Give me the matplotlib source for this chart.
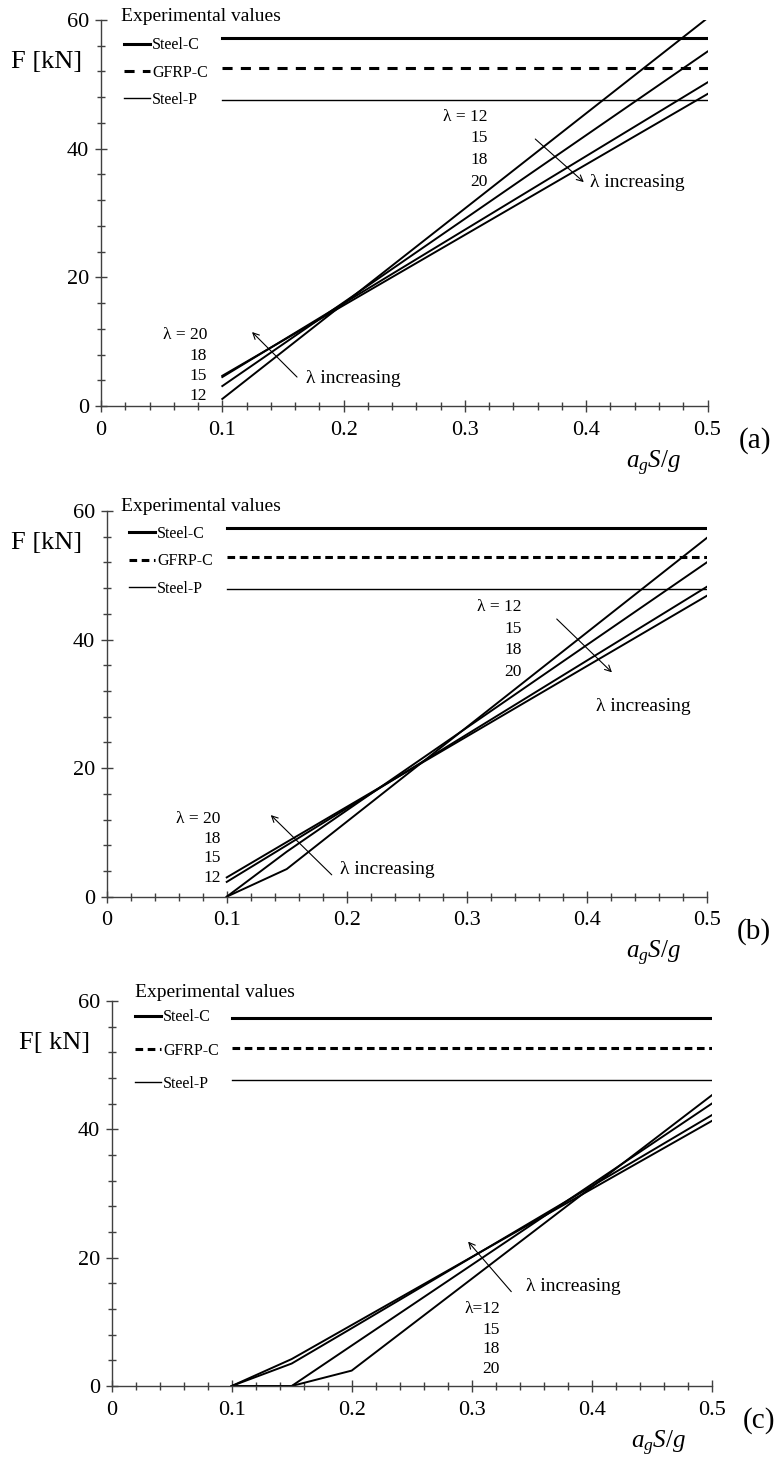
import matplotlib.pyplot as plt
from matplotlib.ticker import MultipleLocator, FixedLocator, FixedFormatter

plt.rcParams['font.family'] = ['Liberation Serif', 'DejaVu Serif']
plt.rcParams['mathtext.fontset'] = 'custom'
plt.rcParams['mathtext.rm'] = 'Liberation Serif'
plt.rcParams['mathtext.it'] = 'Liberation Serif:italic'

# experimental values (horizontal lines from x=0.1 to 0.5)
exp_names = ['Steel-C', 'GFRP-C', 'Steel-P']
exp_x = [0.1, 0.5]
a_exp = [57.2, 52.6, 47.6]
b_exp = [57.4, 52.8, 47.8]
c_exp = [57.3, 52.6, 47.7]

# computed F vs agS/g for lambda = 12, 15, 18, 20
lambdas = [12, 15, 18, 20]
a_x = [0.1, 0.5]
a_F = [[1.1, 60.3], [3.1, 55.1], [4.5, 50.3], [4.7, 48.5]]
b_x = [0.1, 0.15, 0.5]
b_F = [[0.0, 4.3, 55.8], [0.0, 7.0, 52.0], [2.3, 8.0, 48.2], [3.0, 8.5, 46.8]]
c_x = [0.1, 0.15, 0.2, 0.5]
c_F = [[0.0, 0.0, 2.4, 45.3], [0.0, 0.0, 6.3, 44.0], [0.0, 3.5, 9.0, 42.2], [0.0, 4.2, 9.5, 41.3]]

xtick_vals = [0, 0.1, 0.2, 0.3, 0.4, 0.5]
xtick_labels = ['0', '0.1', '0.2', '0.3', '0.4', '0.5']
ytick_vals = [0, 20, 40, 60]

fig = plt.figure(figsize=(7.74, 14.57), dpi=100)
axc = '0.25'


def draw_panel(pos, x, F, exp, tag, ylabel, ylab_off, dash, title_pos, leg_anchor, leg_space):
    ax = fig.add_axes(pos)
    for curve in F:
        ax.plot(x, curve, color='k', lw=1.4, solid_joinstyle='miter')
    styles = [dict(lw=2.2, ls='-'), dict(lw=2.2, ls=(0, dash)), dict(lw=1.0, ls='-')]
    handles = []
    for name, val, st in zip(exp_names, exp, styles):
        h, = ax.plot(exp_x, [val, val], color='k', label=name, **st)
        handles.append(h)
    ax.set_xlim(0, 0.5)
    ax.set_ylim(0, 60)
    for s in ['top', 'right']:
        ax.spines[s].set_visible(False)
    for s in ['left', 'bottom']:
        ax.spines[s].set_color(axc)
        ax.spines[s].set_linewidth(1.0)
    ax.xaxis.set_major_locator(FixedLocator(xtick_vals))
    ax.xaxis.set_major_formatter(FixedFormatter(xtick_labels))
    ax.xaxis.set_minor_locator(MultipleLocator(0.02))
    ax.yaxis.set_major_locator(FixedLocator(ytick_vals))
    ax.yaxis.set_minor_locator(MultipleLocator(4))
    ax.tick_params(which='major', direction='inout', length=9, width=1.0, color=axc,
                   labelsize=16, pad=4)
    ax.tick_params(axis='x', which='major', pad=6)
    ax.tick_params(which='minor', direction='inout', length=6, width=1.0, color=axc)

    ax.text(title_pos[0], title_pos[1], 'Experimental values', transform=ax.transAxes,
            ha='left', va='center', fontsize=14)
    ax.legend(handles=handles, loc='upper left', bbox_to_anchor=leg_anchor, frameon=False,
              fontsize=11.5, borderpad=0, borderaxespad=0, handlelength=1.65,
              handletextpad=0.1, labelspacing=leg_space)

    ax.annotate(ylabel, xy=(0, 1), xycoords='axes fraction', xytext=ylab_off,
                textcoords='offset pixels', ha='right', va='center', fontsize=19)
    ax.annotate(tag, xy=(1, 0), xycoords='axes fraction', xytext=(47, -35),
                textcoords='offset pixels', ha='center', va='center', fontsize=21)
    ax.annotate('$a_gS/g$', xy=(1, 0), xycoords='axes fraction', xytext=(-26, -57),
                textcoords='offset pixels', ha='right', va='center', fontsize=18)
    return ax


def lam_labels(ax, x, ys, texts):
    for y, t in zip(ys, texts):
        ax.text(x, y, t, ha='right', va='center', fontsize=12.5)


def lam_arrow(ax, tail, head, tx, ty):
    ax.annotate('', xy=head, xytext=tail,
                arrowprops=dict(arrowstyle='->', lw=0.8, color='k', shrinkA=0, shrinkB=0,
                                mutation_scale=11))
    ax.text(tx, ty, 'λ increasing', ha='left', va='center', fontsize=14)


# (a)
ax = draw_panel([0.1305, 0.72134, 0.7836, 0.26493], a_x, a_F, a_exp, '(a)', 'F [kN]',
                (-19, -42), (3.3, 2.7), (0.033, 1.010), (0.038, 0.955), 0.70)
lam_labels(ax, 0.319, [44.9, 41.7, 38.3, 34.8], ['λ = 12', '15', '18', '20'])
lam_arrow(ax, (0.358, 41.5), (0.398, 34.8), 0.403, 34.8)
lam_labels(ax, 0.0874, [11.0, 7.8, 4.7, 1.6], ['λ = 20', '18', '15', '12'])
lam_arrow(ax, (0.1616, 4.5), (0.1245, 11.5), 0.169, 4.3)

# (b)
ax = draw_panel([0.1379, 0.38456, 0.7752, 0.26472], b_x, b_F, b_exp, '(b)', 'F [kN]',
                (-25, -32), (2.5, 1.5), (0.024, 1.011), (0.037, 0.962), 0.73)
lam_labels(ax, 0.346, [45.0, 41.7, 38.3, 35.0], ['λ = 12', '15', '18', '20'])
lam_arrow(ax, (0.375, 43.2), (0.421, 34.9), 0.408, 29.6)
lam_labels(ax, 0.095, [12.05, 9.0, 6.0, 2.9], ['λ = 20', '18', '15', '12'])
lam_arrow(ax, (0.1875, 3.4), (0.1367, 12.7), 0.194, 4.3)

# (c)
ax = draw_panel([0.1443, 0.04873, 0.7752, 0.26424], c_x, c_F, c_exp, '(c)', 'F[ kN]',
                (-22, -42), (2.5, 1.5), (0.039, 1.0216), (0.039, 0.978), 1.07)
lam_labels(ax, 0.3236, [11.95, 8.8, 5.7, 2.6], ['λ=12', '15', '18', '20'])
lam_arrow(ax, (0.333, 14.7), (0.297, 22.5), 0.345, 15.5)

fig.savefig('out.png', dpi=100)
